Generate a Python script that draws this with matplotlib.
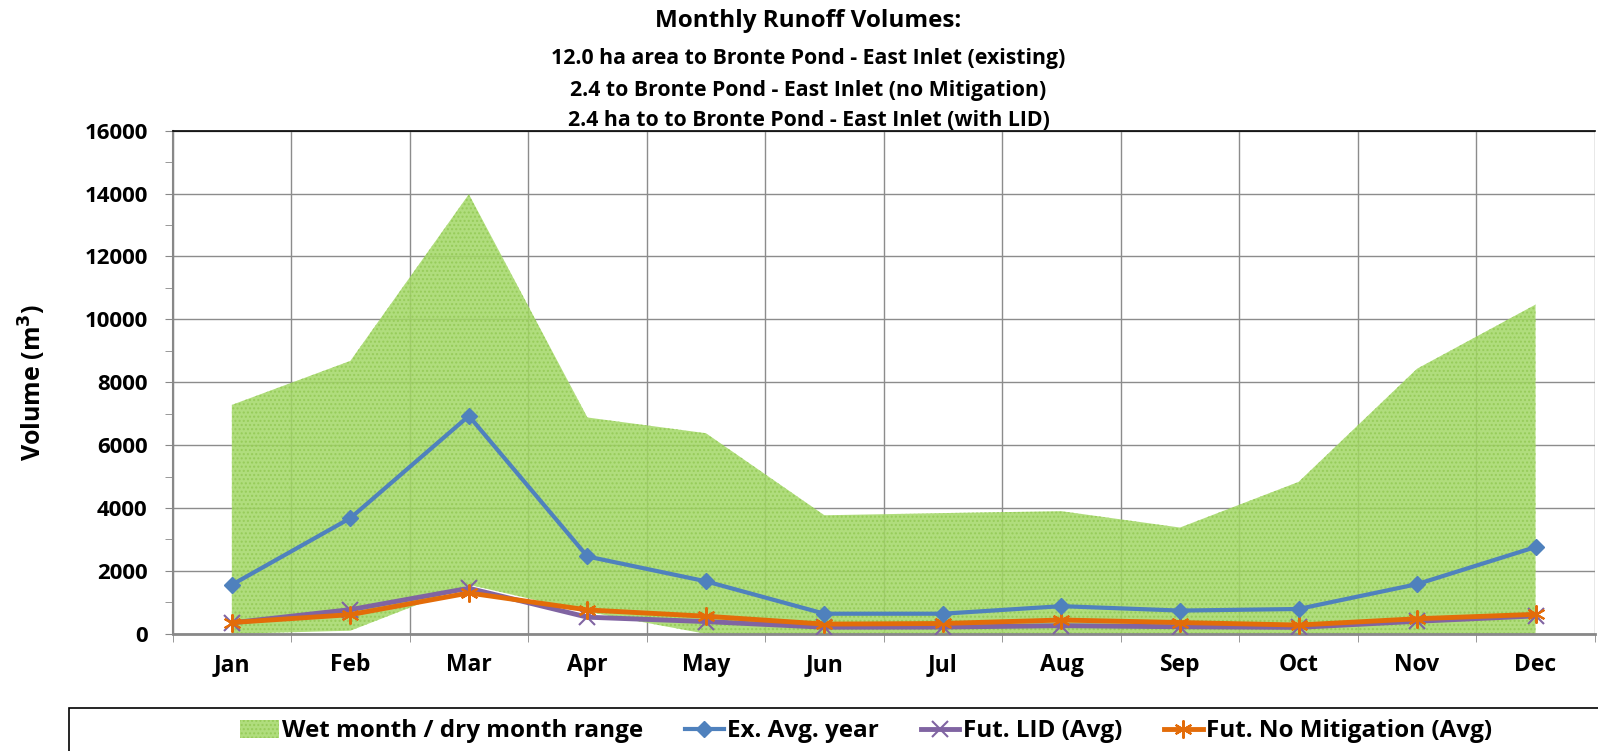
import matplotlib.pyplot as plt
from matplotlib.patches import Rectangle
import numpy as np

months = ["Jan", "Feb", "Mar", "Apr", "May", "Jun", "Jul", "Aug", "Sep", "Oct", "Nov", "Dec"]

# wet month / dry month envelope
wet_month = [7280, 8680, 13980, 6880, 6380, 3770, 3840, 3900, 3380, 4830, 8430, 10470]
dry_month = [0, 100, 1560, 700, 0, 0, 0, 0, 0, 0, 0, 0]

ex_avg = [1560, 3680, 6930, 2460, 1670, 640, 640, 880, 740, 790, 1580, 2760]
fut_lid = [350, 770, 1450, 530, 390, 210, 215, 260, 225, 205, 400, 570]
fut_nomit = [360, 610, 1300, 760, 560, 310, 330, 440, 360, 280, 480, 620]

plt.rcParams['font.family'] = ['Open Sans', 'DejaVu Sans']
plt.rcParams['font.weight'] = 'bold'


def main():
	fig = plt.figure(figsize=(15.98, 7.51), dpi=100)
	ax = fig.add_axes([0.108, 0.156, 0.890, 0.670])

	x = np.arange(len(months))

	ax.fill_between(x, dry_month, wet_month, facecolor="#A3D866", edgecolor="#93C955",
		hatch="....", linewidth=0, alpha=0.85, zorder=2, label="Wet month / dry month range")
	ax.plot(x, fut_lid, color="#8064A2", linewidth=3.5, marker="x", markersize=11,
		markeredgewidth=1.5, zorder=3, label="Fut. LID (Avg)")
	ax.plot(x, fut_nomit, color="#E36C09", linewidth=3.5, marker=(6, 2, 0), markersize=13,
		markeredgewidth=1.5, zorder=4, label="Fut. No Mitigation (Avg)")
	ax.plot(x, ex_avg, color="#4F81BD", linewidth=3.0, marker="D", markersize=8,
		zorder=5, label="Ex. Avg. year")

	ax.set_xlim(-0.5, len(months) - 0.5)
	ax.set_ylim(0, 16000)
	ax.set_yticks(np.arange(0, 16001, 2000))
	ax.set_yticks(np.arange(1000, 16000, 2000), minor=True)
	ax.set_xticks(x)
	ax.set_xticklabels(months)
	ax.set_xticks(np.arange(-0.5, len(months), 1), minor=True)

	ax.tick_params(axis="y", which="both", direction="out", length=6, color="#888888",
		labelsize=16, pad=12)
	ax.tick_params(axis="x", which="major", length=0, labelsize=16.5, pad=14)
	ax.tick_params(axis="x", which="minor", direction="out", length=6, color="#888888")

	ax.grid(axis="y", which="major", color="#8C8C8C", linewidth=1.0, zorder=1)
	ax.grid(axis="x", which="minor", color="#8C8C8C", linewidth=1.0, zorder=1)
	ax.set_axisbelow(True)

	for side in ["top", "right"]:
		ax.spines[side].set_visible(False)
	ax.spines["left"].set_color("#888888")
	ax.spines["left"].set_linewidth(1.5)
	ax.spines["bottom"].set_color("#888888")
	ax.spines["bottom"].set_linewidth(2)
	ax.axhline(16000, color="black", linewidth=1.2, zorder=6, clip_on=False)

	ax.set_ylabel("Volume (m$^\\mathbf{3}$)", fontsize=18, fontweight="bold", labelpad=26)

	fig.text(0.506, 0.972, "Monthly Runoff Volumes:", ha="center", va="center",
		fontsize=17.5, fontweight="bold")
	fig.text(0.506, 0.922, "12.0 ha area to Bronte Pond - East Inlet (existing)",
		ha="center", va="center", fontsize=15.3, fontweight="bold")
	fig.text(0.506, 0.880, "2.4 to Bronte Pond - East Inlet (no Mitigation)",
		ha="center", va="center", fontsize=15.3, fontweight="bold")
	fig.text(0.506, 0.839, "2.4 ha to to Bronte Pond - East Inlet (with LID)",
		ha="center", va="center", fontsize=15.3, fontweight="bold")

	# legend frame running off the bottom of the figure
	fig.patches.append(Rectangle((69 / 1598, -0.05), 1.0, 0.05 + (751 - 708) / 751,
		transform=fig.transFigure, facecolor="white", edgecolor="black", linewidth=1.2,
		zorder=0))

	handles, labels = ax.get_legend_handles_labels()
	order = [0, 3, 1, 2]
	fig.legend([handles[i] for i in order], [labels[i] for i in order],
		loc="center", bbox_to_anchor=(0.542, 0.026), ncol=4, frameon=False,
		fontsize=17.5, handlelength=1.6, handleheight=0.8, handletextpad=0.15,
		columnspacing=1.7)

	plt.savefig("out.png", dpi=100)


if __name__ == "__main__":
	main()
